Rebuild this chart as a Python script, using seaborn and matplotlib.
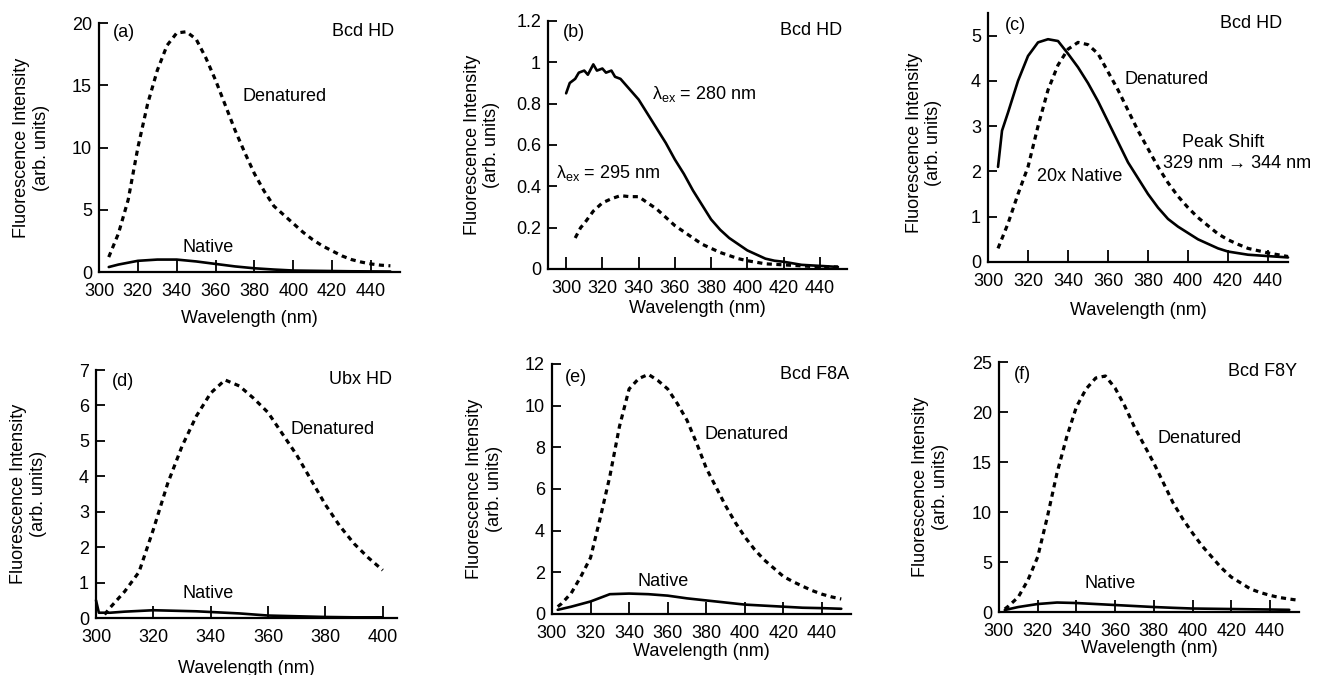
import matplotlib
matplotlib.use("Agg")
import matplotlib.pyplot as plt
import seaborn as sns
import numpy as np

# ---------------- data ----------------
# (a) Bcd HD
a_den_x = [305, 310, 315, 320, 325, 330, 335, 340, 345, 350, 355, 360, 365, 370, 375, 380, 385, 390,
           395, 400, 405, 410, 415, 420, 425, 430, 435, 440, 445, 450]
a_den_y = [1.2, 3.1, 5.8, 10.0, 13.5, 16.2, 18.2, 19.2, 19.3, 18.7, 17.2, 15.4, 13.4, 11.4, 9.6, 7.9, 6.5, 5.3,
           4.6, 3.9, 3.2, 2.6, 2.1, 1.7, 1.3, 1.0, 0.8, 0.65, 0.55, 0.5]
a_nat_x = [305, 310, 320, 330, 340, 350, 360, 370, 380, 390, 400, 410, 420, 430, 440, 450]
a_nat_y = [0.4, 0.6, 0.9, 1.0, 1.0, 0.85, 0.65, 0.45, 0.3, 0.2, 0.12, 0.1, 0.08, 0.06, 0.05, 0.04]

# (b) Bcd HD, two excitation wavelengths
b280_x = [300, 302, 305, 307, 310, 312, 315, 317, 320, 322, 325, 327, 330, 335, 340, 345, 350, 355, 360,
          365, 370, 375, 380, 385, 390, 395, 400, 405, 410, 415, 420, 430, 440, 450]
b280_y = [0.85, 0.90, 0.92, 0.95, 0.96, 0.94, 0.99, 0.96, 0.97, 0.95, 0.96, 0.93, 0.92, 0.87, 0.82, 0.75,
          0.68, 0.61, 0.53, 0.46, 0.38, 0.31, 0.24, 0.19, 0.15, 0.12, 0.09, 0.07, 0.05, 0.04, 0.035, 0.02,
          0.015, 0.01]
b295_x = [305, 308, 310, 315, 320, 325, 330, 335, 340, 345, 350, 355, 360, 365, 370, 375, 380, 385, 390,
          395, 400, 410, 420, 430, 440, 450]
b295_y = [0.15, 0.20, 0.22, 0.28, 0.32, 0.34, 0.355, 0.35, 0.35, 0.32, 0.29, 0.25, 0.21, 0.18, 0.15, 0.12,
          0.10, 0.08, 0.065, 0.05, 0.04, 0.025, 0.02, 0.015, 0.01, 0.01]

# (c) Bcd HD, 20x native vs denatured
c_nat_x = [305, 307, 310, 315, 320, 325, 330, 335, 340, 345, 350, 355, 360, 365, 370, 375, 380, 385, 390,
           395, 400, 405, 410, 415, 420, 430, 440, 450]
c_nat_y = [2.1, 2.9, 3.3, 4.0, 4.55, 4.85, 4.92, 4.88, 4.6, 4.3, 3.95, 3.55, 3.1, 2.65, 2.2, 1.85, 1.5,
           1.2, 0.95, 0.78, 0.64, 0.5, 0.4, 0.3, 0.23, 0.16, 0.13, 0.1]
c_den_x = [305, 310, 315, 320, 325, 330, 335, 340, 345, 350, 355, 360, 365, 370, 375, 380, 385, 390, 395,
           400, 405, 410, 415, 420, 425, 430, 440, 450]
c_den_y = [0.3, 0.85, 1.5, 2.1, 3.0, 3.8, 4.35, 4.7, 4.85, 4.8, 4.6, 4.2, 3.8, 3.35, 2.9, 2.5, 2.1, 1.75,
           1.45, 1.2, 0.98, 0.8, 0.62, 0.49, 0.39, 0.3, 0.2, 0.12]

# (d) Ubx HD
d_den_x = [303, 305, 310, 315, 320, 325, 330, 335, 340, 345, 350, 355, 360, 365, 370, 375, 380, 385, 390,
           395, 400]
d_den_y = [0.1, 0.3, 0.75, 1.3, 2.5, 3.8, 4.85, 5.7, 6.35, 6.72, 6.55, 6.2, 5.8, 5.2, 4.6, 3.9, 3.2, 2.6,
           2.1, 1.7, 1.35]
d_nat_x = [300, 301, 305, 310, 315, 320, 325, 330, 335, 340, 345, 350, 355, 360, 370, 380, 390, 400]
d_nat_y = [0.5, 0.15, 0.15, 0.18, 0.2, 0.22, 0.21, 0.2, 0.19, 0.17, 0.15, 0.13, 0.1, 0.07, 0.05, 0.03,
           0.02, 0.02]

# (e) Bcd F8A
e_den_x = [303, 305, 310, 315, 320, 325, 330, 335, 340, 345, 350, 355, 360, 365, 370, 375, 380, 385, 390,
           395, 400, 405, 410, 415, 420, 425, 430, 435, 440, 445, 450]
e_den_y = [0.35, 0.5, 1.0, 1.8, 2.7, 4.6, 6.6, 9.0, 10.8, 11.3, 11.5, 11.2, 10.8, 10.1, 9.3, 8.2, 7.0,
           6.1, 5.2, 4.4, 3.7, 3.1, 2.6, 2.2, 1.8, 1.55, 1.33, 1.12, 0.95, 0.82, 0.72]
e_nat_x = [303, 310, 320, 330, 340, 350, 360, 370, 380, 390, 400, 410, 420, 430, 440, 450]
e_nat_y = [0.2, 0.35, 0.6, 0.95, 0.98, 0.95, 0.88, 0.75, 0.65, 0.55, 0.45, 0.4, 0.35, 0.3, 0.28, 0.25]

# (f) Bcd F8Y
f_den_x = [303, 305, 310, 315, 320, 325, 330, 335, 340, 345, 350, 355, 360, 365, 370, 375, 380, 385, 390,
           395, 400, 405, 410, 415, 420, 425, 430, 435, 440, 445, 450, 455]
f_den_y = [0.3, 0.6, 1.5, 3.2, 5.5, 9.5, 13.9, 17.5, 20.5, 22.3, 23.4, 23.6, 22.4, 20.6, 18.5, 16.7,
           14.9, 12.9, 10.9, 9.3, 7.9, 6.6, 5.5, 4.4, 3.5, 2.9, 2.3, 1.95, 1.67, 1.45, 1.3, 1.17]
f_nat_x = [303, 310, 320, 330, 340, 350, 360, 370, 380, 390, 400, 420, 440, 450]
f_nat_y = [0.2, 0.5, 0.8, 0.95, 0.9, 0.8, 0.7, 0.6, 0.5, 0.42, 0.35, 0.3, 0.25, 0.22]

# tick labels
xt_main = [300, 320, 340, 360, 380, 400, 420, 440]
xt_d = [300, 320, 340, 360, 380, 400]
yt_a = [0, 5, 10, 15, 20]
yt_b = [0, 0.2, 0.4, 0.6, 0.8, 1.0, 1.2]
yt_b_lab = ["0", "0.2", "0.4", "0.6", "0.8", "1", "1.2"]
yt_c = [0, 1, 2, 3, 4, 5]
yt_d = [0, 1, 2, 3, 4, 5, 6, 7]
yt_e = [0, 2, 4, 6, 8, 10, 12]
yt_f = [0, 5, 10, 15, 20, 25]

# ---------------- style ----------------
sns.set_theme(style="ticks")
plt.rcParams["font.family"] = ["Liberation Sans", "DejaVu Sans"]
plt.rcParams["mathtext.fontset"] = "custom"
plt.rcParams["mathtext.rm"] = "Liberation Sans"
plt.rcParams["mathtext.it"] = "Liberation Sans"
for k in ["text.color", "axes.labelcolor", "xtick.color", "ytick.color", "axes.edgecolor"]:
    plt.rcParams[k] = "black"
FS = 13

fig = plt.figure(figsize=(13.17, 6.75), dpi=100)
fig.patch.set_facecolor("white")

rects = {
    "a": [0.0752, 0.5970, 0.2286, 0.3689],
    "b": [0.4161, 0.6015, 0.2270, 0.3674],
    "c": [0.7502, 0.6119, 0.2278, 0.3689],
    "d": [0.0729, 0.0844, 0.2286, 0.3674],
    "e": [0.4191, 0.0904, 0.2270, 0.3704],
    "f": [0.7585, 0.0933, 0.2278, 0.3704],
}

DOT = (0, (1.6, 1.4))
LW_S = 1.9
LW_D = 2.3


def style_ax(ax, xlim, ylim, xt, yt, ytl, ylab_x, ylab_y, xlab_y):
    ax.set_facecolor("white")
    ax.set_xlim(*xlim)
    ax.set_ylim(*ylim)
    ax.set_xticks(xt)
    ax.set_xticklabels([str(v) for v in xt], fontsize=FS)
    ax.set_yticks(yt)
    ax.set_yticklabels(ytl, fontsize=FS)
    ax.tick_params(axis="x", direction="in", length=9, width=1.3, color="black", pad=8,
                   labelcolor="black")
    ax.tick_params(axis="y", direction="in", length=6.5, width=1.3, color="black", pad=5,
                   labelcolor="black")
    for s in ["top", "right"]:
        ax.spines[s].set_visible(False)
    for s in ["left", "bottom"]:
        ax.spines[s].set_linewidth(1.6)
        ax.spines[s].set_color("black")
    ax.set_ylabel("Fluorescence Intensity\n(arb. units)", fontsize=FS, linespacing=1.2,
                  color="black")
    ax.yaxis.set_label_coords(ylab_x, ylab_y)
    ax.set_xlabel("Wavelength (nm)", fontsize=FS, color="black")
    ax.xaxis.set_label_coords(0.5, xlab_y)


def line(ax, x, y, dotted=False):
    if dotted:
        sns.lineplot(x=x, y=y, ax=ax, color="black", linewidth=LW_D, linestyle=DOT, clip_on=False)
    else:
        sns.lineplot(x=x, y=y, ax=ax, color="black", linewidth=LW_S, clip_on=False)


def txt(ax, x, y, s, ha="left"):
    ax.text(x, y, s, fontsize=FS, va="center", ha=ha, color="black")


# (a)
ax = fig.add_axes(rects["a"])
line(ax, a_den_x, a_den_y, True)
line(ax, a_nat_x, a_nat_y)
style_ax(ax, (300, 455), (0, 20), xt_main, yt_a, [str(v) for v in yt_a], -0.163, 0.5, -0.153)
txt(ax, 307, 19.2, "(a)")
txt(ax, 452, 19.3, "Bcd HD", "right")
txt(ax, 374, 14.1, "Denatured")
txt(ax, 343, 1.95, "Native")

# (b)
ax = fig.add_axes(rects["b"])
line(ax, b280_x, b280_y)
line(ax, b295_x, b295_y, True)
style_ax(ax, (290, 455), (0, 1.2), xt_main, yt_b, yt_b_lab, -0.16, 0.5, -0.125)
txt(ax, 298.2, 1.144, "(b)")
txt(ax, 452.4, 1.155, "Bcd HD", "right")
txt(ax, 347.6, 0.845, r"$\mathrm{λ}_{\mathrm{ex}}$ = 280 nm")
txt(ax, 294.5, 0.465, r"$\mathrm{λ}_{\mathrm{ex}}$ = 295 nm")

# (c)
ax = fig.add_axes(rects["c"])
line(ax, c_nat_x, c_nat_y)
line(ax, c_den_x, c_den_y, True)
style_ax(ax, (300, 450), (0, 5.5), xt_main, yt_c, [str(v) for v in yt_c], -0.153, 0.478, -0.16)
txt(ax, 308.3, 5.22, "(c)")
txt(ax, 447, 5.26, "Bcd HD", "right")
txt(ax, 368, 4.04, "Denatured")
txt(ax, 397, 2.64, "Peak Shift")
txt(ax, 387.5, 2.17, "329 nm \u2192 344 nm")
txt(ax, 324.5, 1.89, "20x Native")

# (d)
ax = fig.add_axes(rects["d"])
line(ax, d_den_x, d_den_y, True)
line(ax, d_nat_x, d_nat_y)
style_ax(ax, (300, 405), (0, 7), xt_d, yt_d, [str(v) for v in yt_d], -0.163, 0.5, -0.169)
txt(ax, 305.5, 6.67, "(d)")
txt(ax, 403.4, 6.72, "Ubx HD", "right")
txt(ax, 367.9, 5.31, "Denatured")
txt(ax, 330.2, 0.7, "Native")

# (e)
ax = fig.add_axes(rects["e"])
line(ax, e_den_x, e_den_y, True)
line(ax, e_nat_x, e_nat_y)
style_ax(ax, (300, 455), (0, 12), xt_main, yt_e, [str(v) for v in yt_e], -0.164, 0.5, -0.116)
txt(ax, 306.6, 11.36, "(e)")
txt(ax, 454.3, 11.49, "Bcd F8A", "right")
txt(ax, 379, 8.6, "Denatured")
txt(ax, 344.4, 1.57, "Native")

# (f)
ax = fig.add_axes(rects["f"])
line(ax, f_den_x, f_den_y, True)
line(ax, f_nat_x, f_nat_y)
style_ax(ax, (300, 455), (0, 25), xt_main, yt_f, [str(v) for v in yt_f], -0.167, 0.5, -0.112)
txt(ax, 307.8, 23.8, "(f)")
txt(ax, 453.9, 24.1, "Bcd F8Y", "right")
txt(ax, 382, 17.4, "Denatured")
txt(ax, 344, 2.84, "Native")

fig.savefig("out.png", dpi=100, facecolor="white")
